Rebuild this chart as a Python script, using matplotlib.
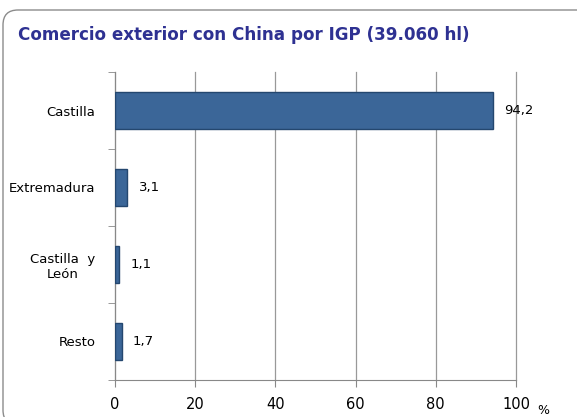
import matplotlib.pyplot as plt
from matplotlib.patches import FancyBboxPatch

# data
categorias = ['Castilla', 'Extremadura', 'Castilla  y\nLeón', 'Resto']
valores = [94.2, 3.1, 1.1, 1.7]
etiquetas = ['94,2', '3,1', '1,1', '1,7']
xticks = [0, 20, 40, 60, 80, 100]

plt.rcParams['font.family'] = ['DejaVu Sans']
fig = plt.figure(figsize=(5.77, 4.17), dpi=100)

# rounded frame (pixel coords, runs off the right and bottom edges)
frame = FancyBboxPatch((3, -8), 590, 415,
                       boxstyle='round,pad=0,rounding_size=15',
                       transform=None, fill=False,
                       edgecolor='#8C8C8C', linewidth=1.0)
fig.patches.append(frame)

fig.text(18 / 577, 1 - 35 / 417, 'Comercio exterior con China por IGP (39.060 hl)',
         color='#2E3192', fontsize=12.1, fontweight='bold', va='center')

ax = fig.add_axes([115 / 577, 1 - 380 / 417, (516 - 115) / 577, (380 - 72) / 417])
y = list(range(len(categorias)))
ax.barh(y, valores, height=0.47, color='#3B6698', edgecolor='#24476F', linewidth=1.0, zorder=3)
for yi, v, t in zip(y, valores, etiquetas):
    ax.text(v + 2.8, yi, t, va='center', ha='left', fontsize=9.5)

ax.set_ylim(3.5, -0.5)
ax.set_xlim(0, 100)
ax.set_yticks(y)
ax.set_yticklabels(categorias, fontsize=9.5, ha='right', multialignment='center')
ax.tick_params(axis='y', length=0, pad=14)
ax.set_yticks([-0.5, 0.5, 1.5, 2.5, 3.5], minor=True)
ax.tick_params(axis='y', which='minor', length=5, color='#888888')
ax.set_xticks(xticks)
ax.set_xticklabels([str(v) for v in xticks], fontsize=10.5)
ax.tick_params(axis='x', length=5, color='#888888', pad=7)
ax.grid(axis='x', color='#999999', linewidth=0.9, zorder=0)
for gl in ax.get_xgridlines():
    gl.set_clip_on(False)
for s in ['top', 'right']:
    ax.spines[s].set_visible(False)
for s in ['left', 'bottom']:
    ax.spines[s].set_color('#888888')
fig.text(543 / 577, 1 - 411 / 417, '%', fontsize=9, ha='center', va='center')

fig.savefig('out.png', dpi=100)
